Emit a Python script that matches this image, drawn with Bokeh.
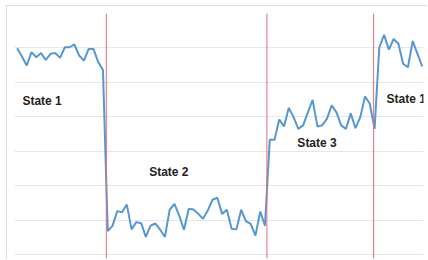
from bokeh.plotting import figure
from bokeh.models import Range1d, Span, FixedTicker, ColumnDataSource
from bokeh.core.properties import value
from bokeh.embed import file_html
from bokeh.resources import INLINE

# Signal values (sample index -> value)
signal = [
    59.9, 57.5, 54.9, 58.8, 57.3, 58.5, 56.5, 58.3, 58.5, 57.1,
    60.2, 60.2, 61.0, 57.8, 56.3, 59.7, 59.7, 55.9, 53.6,
    6.8, 8.3, 12.6, 12.3, 14.5, 7.3, 9.4, 9.1, 5.1, 8.4,
    9.0, 7.2, 5.1, 13.0, 14.7, 11.3, 7.2, 13.3, 13.1, 11.8,
    10.4, 12.8, 15.9, 16.5, 11.8, 13.0, 7.5, 7.3, 13.0, 9.7,
    8.9, 5.5, 12.5, 8.4,
    33.3, 33.3, 39.2, 37.2, 42.6, 39.9, 36.5, 37.5, 41.3, 44.9,
    37.2, 37.5, 39.4, 43.3, 41.3, 37.5, 36.5, 41.0, 36.7, 39.9,
    45.9, 43.8, 36.5,
    60.2, 63.8, 59.5, 62.6, 61.2, 55.4, 54.4, 62.0, 58.3, 54.6,
]
sample_index = list(range(len(signal)))

# change points (sample positions)
change_points = [18.7, 52.4, 74.8]

# state labels
label_text = ["State 1", "State 2", "State 3", "State 1"]
label_x = [1.1, 27.7, 58.8, 77.5]
label_y = [44.7, 24.1, 32.5, 45.3]

y_ticks = [0, 10, 20, 30, 40, 50, 60, 70]

p = figure(width=421, height=254, output_backend="svg", toolbar_location=None,
           x_axis_location=None, y_axis_location=None,
           x_range=Range1d(-0.567, 85.27), y_range=Range1d(-1.16, 70),
           min_border_left=7, min_border_right=5, min_border_top=7, min_border_bottom=2)
p.outline_line_color = None
p.background_fill_color = "white"
p.border_fill_color = "white"
p.xgrid.visible = False
p.ygrid.ticker = FixedTicker(ticks=y_ticks)
p.ygrid.grid_line_color = "#e6e6e6"
p.ygrid.grid_line_width = 1
p.styles = {"border-left": "1px solid #dcdcdc", "border-top": "1px solid #dcdcdc",
            "margin-left": "6px", "margin-top": "5px"}

for cp in change_points:
    p.add_layout(Span(location=cp, dimension="height", line_color="#ec6a78", line_width=1))

src = ColumnDataSource(dict(x=sample_index, y=signal))
p.line("x", "y", source=src, line_color="#5596d6", line_width=2)

lsrc = ColumnDataSource(dict(x=label_x, y=label_y, t=label_text))
p.text("x", "y", text="t", source=lsrc, text_font=value("Liberation Sans"),
       text_font_style="bold", text_font_size="12px", text_color="#222222",
       text_align="left", text_baseline="middle")

open("out.html", "w").write(file_html(p, INLINE))
